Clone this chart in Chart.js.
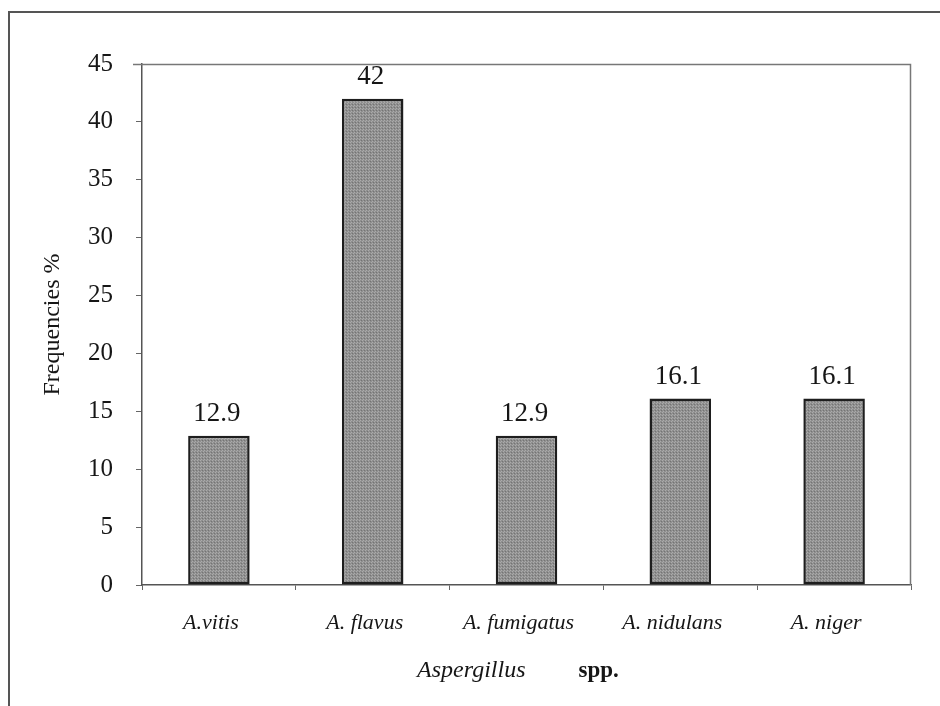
<!DOCTYPE html>
<html>
<head>
<meta charset="utf-8">
<title>Frequencies of Aspergillus spp.</title>
<script src="https://cdn.jsdelivr.net/npm/chart.js@4/dist/chart.umd.min.js"></script>
<style>
  html, body { margin: 0; padding: 0; background: #fff; }
  canvas { display: block; }
</style>
</head>
<body>
<canvas id="chart" width="940" height="706"></canvas>
<script>
// Species isolated and their frequency (%)
const species = ['A.vitis', 'A. flavus', 'A. fumigatus', 'A. nidulans', 'A. niger'];
const frequencies = [12.9, 42, 12.9, 16.1, 16.1];
const yTicks = [0, 5, 10, 15, 20, 25, 30, 35, 40, 45];

const SERIF = '"Liberation Serif", "DejaVu Serif", serif';
const INK = '#161616';

// Stippled grey fill for the bars
function stipple() {
  const c = document.createElement('canvas');
  c.width = 3; c.height = 3;
  const g = c.getContext('2d');
  g.fillStyle = '#8f8f8f';
  g.fillRect(0, 0, 3, 3);
  g.fillStyle = '#ababab';
  g.fillRect(0, 0, 1, 1);
  g.fillRect(2, 1, 1, 1);
  g.fillStyle = '#747474';
  g.fillRect(1, 2, 1, 1);
  return g.createPattern(c, 'repeat');
}

// Frame around the figure, box around the plot, value labels and the x title
const decorations = {
  id: 'decorations',
  beforeDraw(chart) {
    const ctx = chart.ctx;
    ctx.save();
    ctx.strokeStyle = '#555';
    ctx.lineWidth = 2;
    ctx.beginPath();
    ctx.moveTo(9, 720);
    ctx.lineTo(9, 12);
    ctx.lineTo(950, 12);
    ctx.stroke();
    ctx.restore();
  },
  afterDatasetsDraw(chart) {
    const ctx = chart.ctx;
    const a = chart.chartArea;
    ctx.save();
    // top and right edges of the plot box
    ctx.strokeStyle = '#777';
    ctx.lineWidth = 1.5;
    ctx.beginPath();
    ctx.moveTo(a.left - 9, a.top + 0.5);
    ctx.lineTo(a.right - 0.5, a.top + 0.5);
    ctx.lineTo(a.right - 0.5, a.bottom);
    ctx.stroke();

    // value labels above bars
    ctx.fillStyle = INK;
    ctx.font = '27px ' + SERIF;
    ctx.textAlign = 'center';
    ctx.textBaseline = 'alphabetic';
    const meta = chart.getDatasetMeta(0);
    meta.data.forEach((bar, i) => {
      ctx.fillText(String(frequencies[i]), bar.x - 2, bar.y - 15);
    });

    // x axis title: italic genus, upright bold "spp."
    const cx = (a.left + a.right) / 2;
    const base = 677;
    ctx.font = 'italic 24px ' + SERIF;
    ctx.textAlign = 'right';
    ctx.fillText('Aspergillus', cx - 1, base);
    ctx.font = 'bold 23px ' + SERIF;
    ctx.textAlign = 'left';
    ctx.fillText('spp.', cx + 52, base);
    ctx.restore();
  }
};

new Chart(document.getElementById('chart'), {
  type: 'bar',
  data: {
    labels: species,
    datasets: [{
      data: frequencies,
      backgroundColor: stipple(),
      borderColor: '#1e1e1e',
      borderWidth: 2.5,
      borderSkipped: false,
      barPercentage: 0.4,
      categoryPercentage: 1.0
    }]
  },
  options: {
    responsive: false,
    animation: false,
    events: [],
    layout: { padding: { left: 0, top: 64, right: 29, bottom: 0 } },
    plugins: {
      legend: { display: false },
      tooltip: { enabled: false }
    },
    scales: {
      x: {
        offset: true,
        afterFit(scale) { scale.height = 121; },
        grid: {
          offset: true,
          drawOnChartArea: false,
          drawTicks: true,
          tickLength: 5,
          color: '#666',
          lineWidth: 1
        },
        border: { display: true, color: '#555', width: 1.5 },
        ticks: {
          color: INK,
          padding: 20,
          labelOffset: -8,
          maxRotation: 0,
          autoSkip: false,
          font: { family: SERIF, size: 22, style: 'italic' }
        }
      },
      y: {
        min: 0,
        max: 45,
        afterFit(scale) { scale.width = 142; },
        afterBuildTicks(scale) { scale.ticks = yTicks.map(v => ({ value: v })); },
        grid: {
          drawOnChartArea: false,
          drawTicks: true,
          tickLength: 6,
          color: '#666',
          lineWidth: 1
        },
        border: { display: true, color: '#555', width: 1.5 },
        ticks: {
          color: INK,
          padding: 23,
          font: { family: SERIF, size: 25 }
        },
        title: {
          display: true,
          text: 'Frequencies %',
          color: INK,
          padding: { top: 38, bottom: 0 },
          font: { family: SERIF, size: 24 }
        }
      }
    }
  },
  plugins: [decorations]
});
</script>
</body>
</html>
